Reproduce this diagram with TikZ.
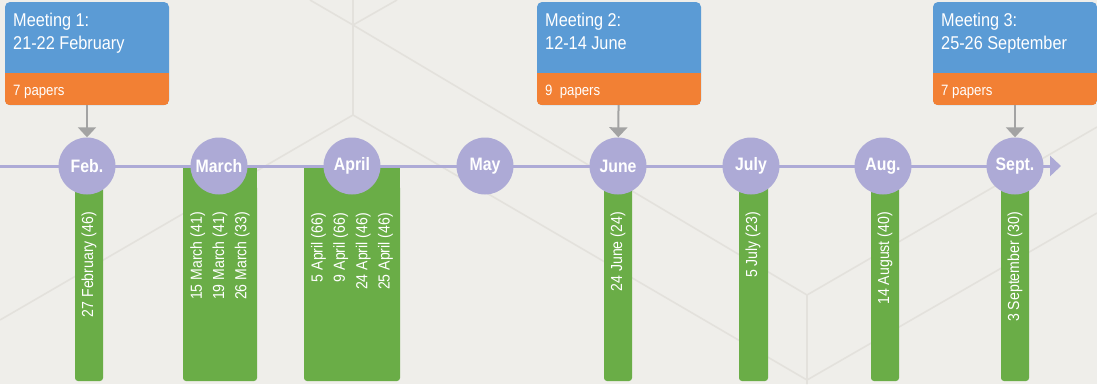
\documentclass[tikz,border=0pt]{standalone}
\usepackage{fontspec}
\setmainfont{Liberation Sans}
\newfontfamily\cond[FakeStretch=0.88]{Liberation Sans}
\usetikzlibrary{calc,arrows.meta}
\definecolor{bg}{HTML}{EFEEEA}
\definecolor{bgline}{HTML}{E3E1DC}
\definecolor{lav}{HTML}{ADAAD6}
\definecolor{grn}{HTML}{6AAD47}
\definecolor{blu}{HTML}{5B9BD5}
\definecolor{org}{HTML}{F28034}
\definecolor{arr}{HTML}{A3A3A3}
\newcommand\gbar[2]{\fill[grn] (#1,167) rectangle (#2,200); \fill[grn,rounded corners=3pt] (#1,185) rectangle (#2,381);}
\begin{document}
\begin{tikzpicture}[x=1pt,y=-1pt,
  month/.style={circle,fill=lav,minimum size=57pt,inner sep=0pt,text=white,font=\cond\bfseries\fontsize{18}{18}\selectfont},
  bartext/.style={rotate=90,anchor=east,inner sep=0pt,text=white,align=right,font=\cond\fontsize{16}{22.3}\selectfont},
  meet/.style={rounded corners=5pt,fill=blu,minimum width=164pt,minimum height=103pt,inner sep=0pt},
  meettext/.style={anchor=base west,inner sep=0pt,text=white,font=\cond\fontsize{18.5}{18.5}\selectfont},
  papers/.style={anchor=base west,inner sep=0pt,text=white,font=\cond\fontsize{15}{15}\selectfont},
  pointer/.style={draw=arr,line width=2pt,-{Triangle[width=18pt,length=10pt]}},
  bgl/.style={draw=bgline,line width=1.6pt},
  tl/.style={draw=lav,line width=3pt,-{Triangle[width=20pt,length=11pt]}}
]
\fill[bg] (0,0) rectangle (1097,384);
\useasboundingbox (0,0) rectangle (1097,384);
% background pattern
\draw[bgl] (310,0) -- (353,25) -- (397,0);
\draw[bgl] (353,0) -- (353,115);
\draw[bgl] (353,25) -- (807,295) -- (807,384);
\draw[bgl] (807,295) -- (1097,127);
\draw[bgl] (0,320) -- (353,115) -- (807,380) -- (1097,213);
% green bars
\gbar{75}{103}
\gbar{183}{257}
\gbar{304}{400}
\gbar{604}{632}
\gbar{739}{768}
\gbar{871}{899}
\gbar{1001}{1029}
% timeline
\coordinate (tlstart) at (0,166);
\coordinate (tlend) at (1061,166);
\draw[tl] (tlstart) -- (tlend);
% months
\node[month] (feb) at (87,166) {Feb.};
\node[month] (mar) at (219,166) {March};
\node[month] (apr) at (352,166) {April};
\node[month] (may) at (485,166) {May};
\node[month] (jun) at (618,166) {June};
\node[month] (jul) at (751,166) {July};
\node[month] (aug) at (883,166) {Aug.};
\node[month] (sep) at (1015,166) {Sept.};
% bar texts
\node[bartext] (tfeb) at (89,212) {27 February (46)};
\node[bartext] (tmar) at (220,212) {15 March (41)\\19 March (41)\\26 March (33)};
\node[bartext] (tapr) at (352,213) {5 April (66)\\9 April (66)\\24 April (46)\\25 April (46)};
\node[bartext] (tjun) at (618,212) {24 June (24)};
\node[bartext] (tjul) at (753,212) {5 July (23)};
\node[bartext] (taug) at (885,212) {14 August (40)};
\node[bartext] (tsep) at (1015,212) {3 September (30)};
% meetings
\node[meet] (m1) at (87,53.5) {};
\node[meet] (m2) at (619,53.5) {};
\node[meet] (m3) at (1015,53.5) {};
\foreach \m in {m1,m2,m3}{
  \begin{scope}
    \clip[rounded corners=5pt] (\m.south west) rectangle (\m.north east);
    \fill[org] (\m.south west) rectangle ($(\m.south east)+(0,-32)$);
  \end{scope}
}
\node[meettext] (m1a) at (13,26) {Meeting 1:};
\node[meettext] (m1b) at (13,49) {21-22 February};
\node[papers] (m1c) at (13,95) {7 papers};
\node[meettext] (m2a) at (545,26) {Meeting 2:};
\node[meettext] (m2b) at (545,49) {12-14 June};
\node[papers] (m2c) at (545,95) {9\ \ papers};
\node[meettext] (m3a) at (941,26) {Meeting 3:};
\node[meettext] (m3b) at (941,49) {25-26 September};
\node[papers] (m3c) at (941,95) {7 papers};
% pointers
\draw[pointer] (m1) -- (feb);
\draw[pointer] (m2) -- (jun);
\draw[pointer] (m3) -- (sep);
\end{tikzpicture}
\end{document}
